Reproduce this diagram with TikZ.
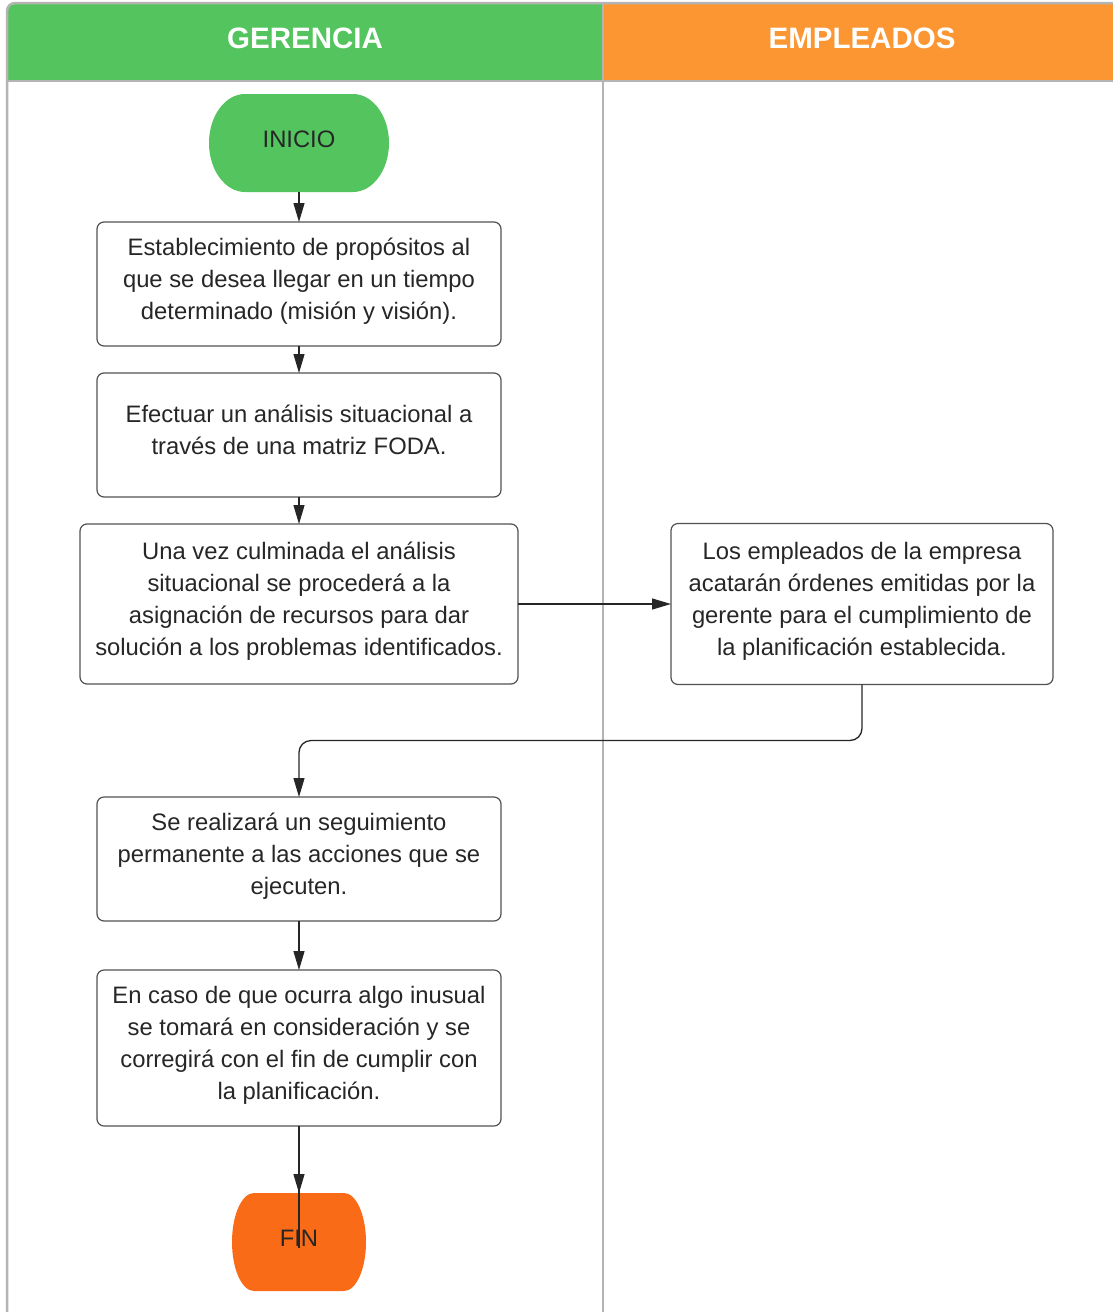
\documentclass[tikz,border=0pt]{standalone}
\usepackage{fontspec}
\setmainfont{Liberation Sans}
\usepackage{xcolor}
\usetikzlibrary{positioning,arrows.meta}

\definecolor{lanegreen}{HTML}{54C45E}
\definecolor{laneorange}{HTML}{FC9633}
\definecolor{endorange}{HTML}{F96B16}
\definecolor{lanegray}{HTML}{B4B4B4}
\definecolor{ink}{HTML}{262626}

\begin{document}
\begin{tikzpicture}[x=1pt, y=1pt, node distance=27pt and 153pt,
  every node/.style={font=\fontsize{23.8}{32}\selectfont, text=ink},
  box/.style={draw=ink!80, line width=1.2pt, rounded corners=7pt, align=center, minimum width=404pt, minimum height=124pt, inner sep=0pt, outer sep=0pt, text depth=10pt},
  terminal/.style 2 args={minimum height=98pt, inner sep=0pt, outer sep=0pt, text depth=8pt, path picture={
    \fill[#1] ([xshift=#2]path picture bounding box.north west) -- ([xshift=-#2]path picture bounding box.north east)
      arc[start angle=90, end angle=-90, x radius=#2, y radius=49pt] -- ([xshift=#2]path picture bounding box.south west)
      arc[start angle=270, end angle=90, x radius=#2, y radius=49pt] -- cycle;}},
  head/.style={font=\fontsize{29.5}{32}\selectfont\bfseries, text=white},
  arr/.style={draw=ink, line width=1.3pt, -{Triangle[length=19pt, width=11pt]}}]
\useasboundingbox (0,0) rectangle (1113,-1312);
\clip (0,0) rectangle (1113,-1312);

% swimlanes
\fill[lanegreen] (7,-81) [rounded corners=8pt]-- (7,-4) [sharp corners]-- (603,-4) -- (603,-81) -- cycle;
\fill[laneorange] (603,-4) rectangle (1120,-81);
\draw[lanegray, line width=2.5pt] (7,-1330) [rounded corners=8pt]-- (7,-3) [sharp corners]-- (1130,-3);
\draw[lanegray, line width=2.5pt] (7,-81) -- (1130,-81);
\draw[lanegray, line width=2pt] (603,-3) -- (603,-1330);
\node[head] (gerencia) at (305,-38) {GERENCIA};
\node[head] (personal) at (862,-38) {EMPLEADOS};

% flow
\node[terminal={lanegreen}{36pt}, minimum width=180pt] (inicio) at (299,-143) {INICIO};
\node[box, below=30pt of inicio] (mision) {Establecimiento de propósitos al\\que se desea llegar en un tiempo\\determinado (misión y visión).};
\node[box, below=of mision] (foda) {Efectuar un análisis situacional a\\través de una matriz FODA.};
\node[box, below=of foda, minimum width=438pt, minimum height=160pt] (recursos) {Una vez culminada el análisis\\situacional se procederá a la\\asignación de recursos para dar\\solución a los problemas identificados.};
\node[box, right=of recursos, minimum width=382pt, minimum height=161pt] (ordenes) {Los empleados de la empresa\\acatarán órdenes emitidas por la\\gerente para el cumplimiento de\\la planificación establecida.};
\node[box, below=113pt of recursos] (seguimiento) {Se realizará un seguimiento\\permanente a las acciones que se\\ejecuten.};
\node[box, below=49pt of seguimiento, minimum height=156pt] (inusual) {En caso de que ocurra algo inusual\\se tomará en consideración y se\\corregirá con el fin de cumplir con\\la planificación.};
\node[terminal={endorange}{22pt}, minimum width=134pt, below=67pt of inusual] (fin) {FIN};

\draw[arr] (inicio) -- (mision);
\draw[arr] (mision) -- (foda);
\draw[arr] (foda) -- (recursos);
\draw[arr] (recursos) -- (ordenes);
\draw[arr, rounded corners=12pt] (ordenes.south) -- ++(0,-56pt) -| (seguimiento.north);
\draw[arr] (seguimiento) -- (inusual);
% the last line runs on into the end node
\draw[draw=ink, line width=1.3pt] (inusual.south) -- ([yshift=-6pt]fin.center);
\draw[arr] (inusual) -- (fin);
\end{tikzpicture}
\end{document}
